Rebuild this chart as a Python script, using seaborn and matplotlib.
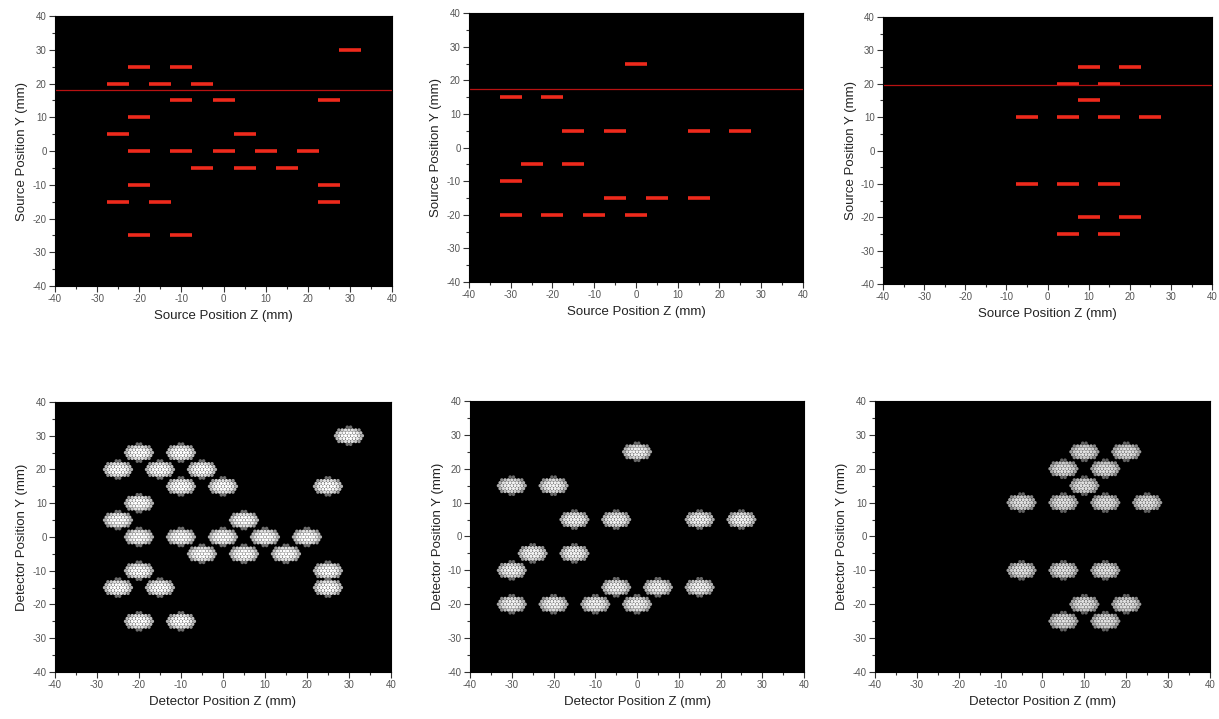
import numpy as np
import pandas as pd
import seaborn as sns
import matplotlib.pyplot as plt
from matplotlib.ticker import MultipleLocator

# source / detector positions (Z, Y) in mm for the three configurations
cfg1_z = [-20, -10, -25, -15, -5, -10, 0, 25, -20, -25, 5, -20, -10, 0, 10, 20,
          -5, 5, 15, -20, 25, -25, -15, 25, -20, -10, 30]
cfg1_y = [25, 25, 20, 20, 20, 15, 15, 15, 10, 5, 5, 0, 0, 0, 0, 0,
          -5, -5, -5, -10, -10, -15, -15, -15, -25, -25, 30]

cfg2_z = [0, -30, -20, -15, -5, 15, 25, -25, -15, -30, -5, 5, 15, -30, -20, -10, 0]
cfg2_y = [25, 15, 15, 5, 5, 5, 5, -5, -5, -10, -15, -15, -15, -20, -20, -20, -20]

cfg3_z = [10, 20, 5, 15, 10, -5, 5, 15, 25, -5, 5, 15, 10, 20, 5, 15]
cfg3_y = [25, 25, 20, 20, 15, 10, 10, 10, 10, -10, -10, -10, -20, -20, -25, -25]

# faint horizontal scan line seen in each source panel
scan_line_y = [18.0, 17.5, 19.5]
# brightness of detector spots per configuration
spot_peak = [1.0, 0.95, 0.88]

sns.set_style("white")
plt.rcParams['font.family'] = ['Liberation Sans', 'DejaVu Sans']
plt.rcParams['axes.unicode_minus'] = False

fig = plt.figure(figsize=(12.19, 7.19), dpi=100)
top_rects = [[0.0451, 0.6022, 0.2765, 0.3755],
             [0.3847, 0.6078, 0.2740, 0.3740],
             [0.7244, 0.6050, 0.2700, 0.3713]]
bot_rects = [[0.0451, 0.0654, 0.2756, 0.3755],
             [0.3856, 0.0654, 0.2740, 0.3769],
             [0.7178, 0.0654, 0.2748, 0.3769]]

configs = [(cfg1_z, cfg1_y), (cfg2_z, cfg2_y), (cfg3_z, cfg3_y)]


def style_axes(ax, xlabel, ylabel):
    ax.set_facecolor("black")
    ax.set_xlim(-40, 40)
    ax.set_ylim(-40, 40)
    ax.xaxis.set_major_locator(MultipleLocator(10))
    ax.yaxis.set_major_locator(MultipleLocator(10))
    ax.xaxis.set_minor_locator(MultipleLocator(5))
    ax.yaxis.set_minor_locator(MultipleLocator(5))
    ax.tick_params(which="both", direction="out", bottom=True, left=True,
                   color="#333333", width=0.8)
    ax.tick_params(which="major", length=4, labelsize=7, labelcolor="#555555", pad=2)
    ax.tick_params(which="minor", length=2)
    for s in ax.spines.values():
        s.set_color("black")
    ax.set_xlabel(xlabel, fontsize=9.5, color="#222222", labelpad=4)
    ax.set_ylabel(ylabel, fontsize=9.5, color="#222222", labelpad=3)


# hexagonal lattice of dots making up one detector spot
hex_dz, hex_dy = [], []
for j in range(-3, 4):
    shift = 0.4 if j % 2 else 0.0
    for i in range(-6, 7):
        dz = i * 0.8 + shift
        dy = j * 0.85
        if (dz / 3.8) ** 2 + (dy / 2.6) ** 2 <= 1.0:
            hex_dz.append(dz)
            hex_dy.append(dy)
hex_dz = np.array(hex_dz)
hex_dy = np.array(hex_dy)
hex_r2 = (hex_dz / 3.8) ** 2 + (hex_dy / 2.6) ** 2

for k, (zs, ys) in enumerate(configs):
    # source panel
    ax = fig.add_axes(top_rects[k])
    src = pd.DataFrame({"z": zs, "y": ys})
    sns.scatterplot(data=src, x="z", y="y", marker="_", s=230, color="#ee2a1c",
                    linewidth=2.6, ax=ax, legend=False)
    ax.axhline(scan_line_y[k], color="#b81212", lw=0.9)
    style_axes(ax, "Source Position Z (mm)", "Source Position Y (mm)")

    # detector panel
    ax = fig.add_axes(bot_rects[k])
    rows = []
    for z, y in zip(zs, ys):
        inten = spot_peak[k] * (1.0 - 0.6 * hex_r2 ** 2)
        rows.append(pd.DataFrame({"z": z + hex_dz, "y": y + hex_dy, "v": inten}))
    det = pd.concat(rows, ignore_index=True)
    sns.scatterplot(data=det, x="z", y="y", hue="v", palette="gray",
                    hue_norm=(0, 1), s=6, linewidth=0, ax=ax, legend=False)
    style_axes(ax, "Detector Position Z (mm)", "Detector Position Y (mm)")

fig.savefig("out.png", dpi=100, facecolor="white")
